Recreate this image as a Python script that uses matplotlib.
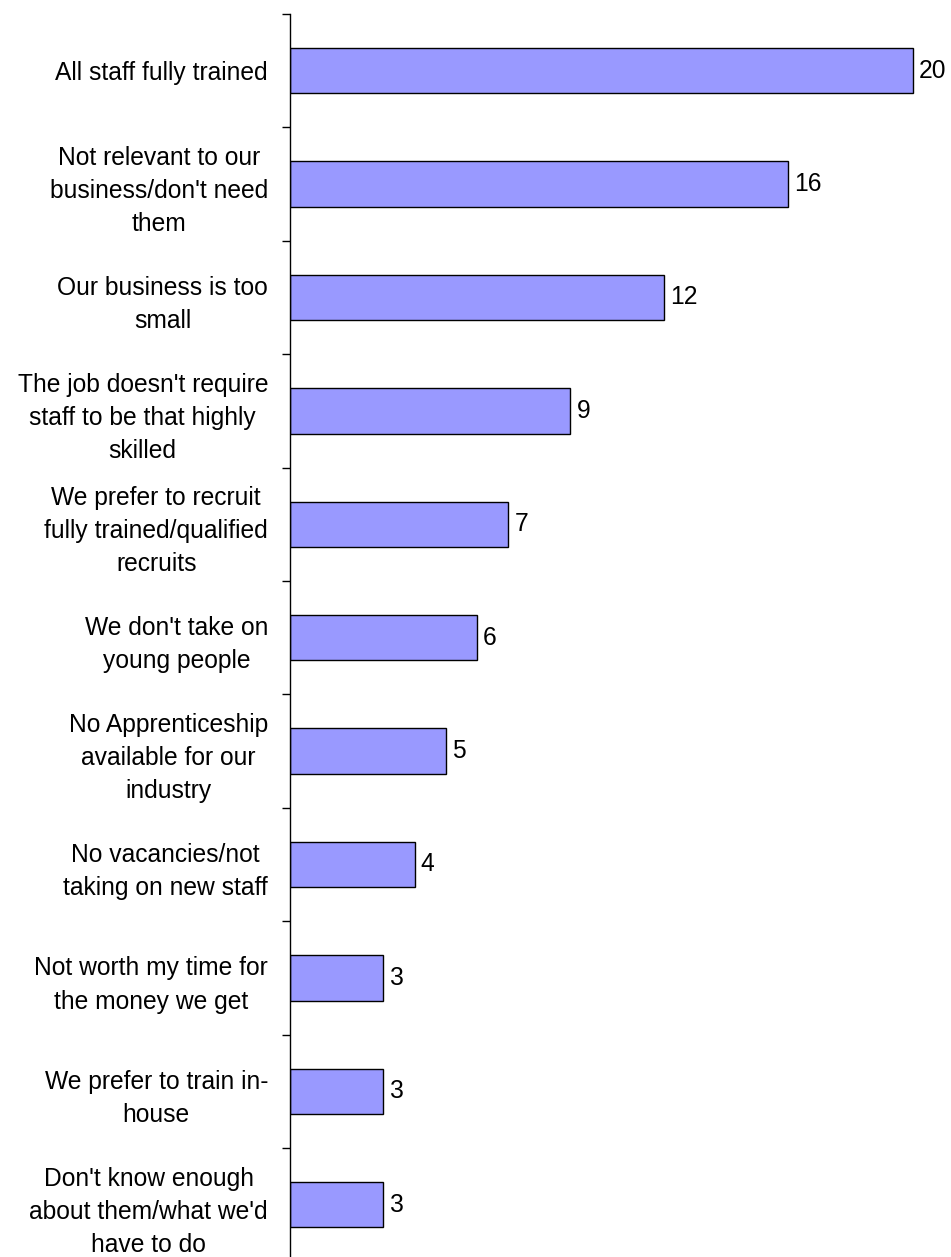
import matplotlib
matplotlib.use("Agg")
import matplotlib.pyplot as plt
import numpy as np

plt.rcParams['font.family'] = ['Liberation Sans', 'DejaVu Sans']

# Reasons given, top to bottom
reasons = [
    "All staff fully trained",
    "Not relevant to our\nbusiness/don't need\nthem",
    "Our business is too\nsmall",
    "The job doesn't require\nstaff to be that highly\nskilled",
    "We prefer to recruit\nfully trained/qualified\nrecruits",
    "We don't take on\nyoung people",
    "No Apprenticeship\navailable for our\nindustry",
    "No vacancies/not\ntaking on new staff",
    "Not worth my time for\nthe money we get",
    "We prefer to train in-\nhouse",
    "Don't know enough\nabout them/what we'd\nhave to do",
]
values = [20, 16, 12, 9, 7, 6, 5, 4, 3, 3, 3]

fig = plt.figure(figsize=(9.51, 12.57), dpi=100)
ax = fig.add_axes([0.3049, -0.0035, 0.6951, 0.9924])

y = np.arange(len(reasons))
ax.barh(y, values, height=0.4, color='#9999FF', edgecolor='black', linewidth=1.0)

for yi, v in zip(y, values):
    ax.text(v + 0.2, yi, str(v), va='center', ha='left', fontsize=17.7)

ax.set_ylim(len(reasons) - 0.5, -0.5)
ax.set_xlim(0, 21.22)

ax.set_yticks(y)
ax.set_yticklabels(reasons, fontsize=17.7, multialignment='center', linespacing=1.48)
ax.tick_params(axis='y', which='major', length=0, pad=15.8)
ax.set_yticks(np.arange(-0.5, len(reasons), 1), minor=True)
ax.tick_params(axis='y', which='minor', length=6, width=1, direction='out')

ax.set_xticks([])
for side in ['top', 'right', 'bottom']:
    ax.spines[side].set_visible(False)
ax.spines['left'].set_linewidth(1)

fig.savefig('out.png', dpi=100)
